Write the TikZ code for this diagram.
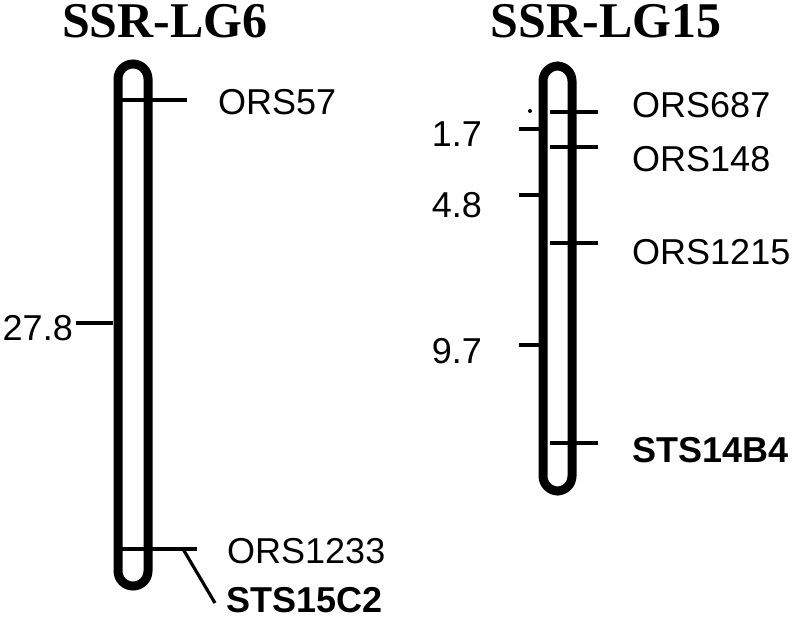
\documentclass[tikz,border=0pt]{standalone}
\usepackage{fontspec}
\setmainfont{Liberation Sans}
\newfontfamily\titlefont{Liberation Serif}
\begin{document}
\begin{tikzpicture}[x=1pt,y=-1pt,
  chrom/.style={draw=black, line width=9pt, rounded corners=15pt, inner sep=0pt, minimum width=30pt},
  marker/.style={line width=3.2pt},
  thickmark/.style={line width=4.4pt},
  tick/.style={line width=4pt},
  lab/.style={anchor=base west, inner sep=0pt, font=\fontsize{36}{36}\selectfont},
  blab/.style={lab, font=\fontsize{36}{36}\selectfont\bfseries},
  num/.style={anchor=base east, inner sep=0pt, font=\fontsize{36}{36}\selectfont},
  title/.style={anchor=base, inner sep=0pt, font=\fontsize{50}{50}\selectfont\titlefont\bfseries}]
\useasboundingbox (0,0) rectangle (797,620);
% titles
\node[title] (t6) at (165,38) {SSR-LG6};
\node[title] (t15) at (606,38) {SSR-LG15};
% chromosomes
\node[chrom, minimum height=522pt] (c6) at (133,325) {};
\node[chrom, minimum height=425pt, minimum width=29pt] (c15) at (557.5,278.5) {};
% LG6 markers
\coordinate (m1a) at (122,100); \coordinate (m1b) at (187,100);
\draw[marker] (m1a) -- (m1b);
\node[lab] (ors57) at (218,115) {ORS57};
\coordinate (m2a) at (122,549); \coordinate (m2b) at (197,549);
\coordinate (m2c) at (183,549); \coordinate (m2d) at (215,603);
\draw[marker] (m2a) -- (m2b);
\draw[marker] (m2c) -- (m2d);
\node[lab] (ors1233) at (227,563) {ORS1233};
\node[blab] (sts15) at (226,612) {STS15C2};
\coordinate (k1a) at (76,323); \coordinate (k1b) at (113,323);
\draw[tick] (k1a) -- (k1b);
\node[num] (n278) at (73,340) {27.8};
% LG15 markers
\coordinate (r1a) at (550,112); \coordinate (r1b) at (598,112);
\draw[thickmark] (r1a) -- (r1b);
\fill (530,111) circle (2pt);
\node[lab] (ors687) at (632,118) {ORS687};
\coordinate (r2a) at (550,147); \coordinate (r2b) at (598,147);
\draw[marker] (r2a) -- (r2b);
\node[lab] (ors148) at (632,172) {ORS148};
\coordinate (r3a) at (550,243); \coordinate (r3b) at (598,243);
\draw[marker] (r3a) -- (r3b);
\node[lab] (ors1215) at (632,265) {ORS1215};
\coordinate (r4a) at (550,443); \coordinate (r4b) at (598,443);
\draw[marker] (r4a) -- (r4b);
\node[blab] (sts14) at (632,462) {STS14B4};
% LG15 left ticks
\coordinate (l1a) at (519,129); \coordinate (l1b) at (540,129);
\draw[tick] (l1a) -- (l1b);
\node[num] (n17) at (482,147) {1.7};
\coordinate (l2a) at (519,195); \coordinate (l2b) at (540,195);
\draw[tick] (l2a) -- (l2b);
\node[num] (n48) at (482,218) {4.8};
\coordinate (l3a) at (519,345); \coordinate (l3b) at (540,345);
\draw[tick] (l3a) -- (l3b);
\node[num] (n97) at (482,363) {9.7};
\end{tikzpicture}
\end{document}
